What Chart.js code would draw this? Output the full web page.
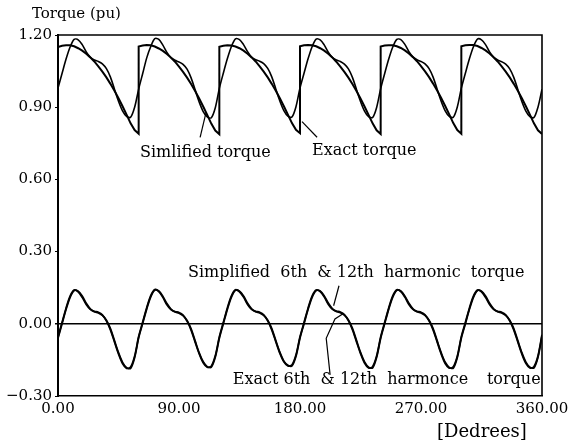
<!DOCTYPE html>
<html>
<head>
<meta charset="utf-8">
<script src="https://cdn.jsdelivr.net/npm/chart.js@4.4.1/dist/chart.umd.min.js"></script>
<style>
html,body{margin:0;padding:0;background:#fff;}
#wrap{width:577px;height:442px;position:relative;}
</style>
</head>
<body>
<div id="wrap"><canvas id="c" width="577" height="442"></canvas></div>
<script>
// ---- data ----
const degrees = [0,3,6,9,12,15,18,21,24,27,30,33,36,39,42,45,48,51,54,57,
60,63,66,69,72,75,78,81,84,87,90,93,96,99,102,105,108,111,114,117,
120,123,126,129,132,135,138,141,144,147,150,153,156,159,162,165,168,171,174,177,
180,183,186,189,192,195,198,201,204,207,210,213,216,219,222,225,228,231,234,237,
240,243,246,249,252,255,258,261,264,267,270,273,276,279,282,285,288,291,294,297,
300,303,306,309,312,315,318,321,324,327,330,333,336,339,342,345,348,351,354,357,360];

const simplifiedTorque = [
0.980,1.040,1.100,1.150,1.182,1.180,1.160,1.130,1.108,1.096,1.090,1.080,1.060,1.025,0.975,0.925,0.885,0.862,0.858,0.900,
0.975,1.040,1.105,1.152,1.185,1.182,1.158,1.128,1.106,1.095,1.088,1.078,1.058,1.022,0.972,0.922,0.882,0.860,0.856,0.898,
0.978,1.042,1.102,1.152,1.184,1.181,1.160,1.131,1.108,1.097,1.091,1.081,1.061,1.026,0.976,0.926,0.886,0.863,0.859,0.902,
0.980,1.041,1.101,1.151,1.183,1.180,1.159,1.129,1.107,1.096,1.090,1.079,1.059,1.024,0.974,0.924,0.884,0.861,0.857,0.899,
0.977,1.040,1.100,1.150,1.182,1.181,1.161,1.131,1.109,1.097,1.090,1.080,1.060,1.025,0.975,0.925,0.885,0.862,0.858,0.901,
0.979,1.041,1.101,1.151,1.183,1.180,1.160,1.130,1.108,1.096,1.089,1.079,1.059,1.024,0.974,0.924,0.884,0.861,0.857,0.900,
0.975];

const exactDegrees = [
0,3,6,9,12,15,18,21,24,27,30,33,36,39,42,45,48,51,54,57,60,
60,63,66,69,72,75,78,81,84,87,90,93,96,99,102,105,108,111,114,117,120,
120,123,126,129,132,135,138,141,144,147,150,153,156,159,162,165,168,171,174,177,180,
180,183,186,189,192,195,198,201,204,207,210,213,216,219,222,225,228,231,234,237,240,
240,243,246,249,252,255,258,261,264,267,270,273,276,279,282,285,288,291,294,297,300,
300,303,306,309,312,315,318,321,324,327,330,333,336,339,342,345,348,351,354,357,360];

const exactTorque = [
1.150,1.155,1.157,1.157,1.153,1.145,1.135,1.122,1.107,1.090,1.070,1.048,1.024,0.997,0.968,0.937,0.904,0.869,0.833,0.805,0.790,
1.152,1.156,1.158,1.157,1.152,1.144,1.134,1.121,1.106,1.089,1.069,1.047,1.023,0.996,0.967,0.936,0.903,0.868,0.832,0.803,0.788,
1.151,1.155,1.157,1.156,1.152,1.145,1.135,1.122,1.107,1.090,1.070,1.048,1.024,0.997,0.968,0.937,0.904,0.869,0.834,0.806,0.792,
1.153,1.157,1.158,1.157,1.153,1.145,1.135,1.122,1.107,1.089,1.069,1.047,1.023,0.996,0.967,0.936,0.903,0.868,0.833,0.804,0.789,
1.152,1.156,1.157,1.157,1.153,1.146,1.136,1.123,1.108,1.091,1.071,1.049,1.025,0.998,0.969,0.938,0.905,0.870,0.834,0.805,0.790,
1.153,1.157,1.158,1.158,1.154,1.146,1.136,1.123,1.107,1.090,1.070,1.048,1.024,0.997,0.968,0.937,0.904,0.869,0.833,0.804,0.789];

const simplifiedHarmonic = [
-0.055,0.005,0.065,0.115,0.140,0.133,0.110,0.080,0.060,0.052,0.048,0.037,0.012,-0.025,-0.075,-0.125,-0.165,-0.185,-0.180,-0.135,
-0.053,0.007,0.067,0.117,0.142,0.134,0.110,0.079,0.059,0.051,0.047,0.036,0.011,-0.026,-0.076,-0.124,-0.162,-0.180,-0.176,-0.133,
-0.055,0.006,0.066,0.116,0.141,0.133,0.111,0.080,0.060,0.052,0.048,0.037,0.012,-0.025,-0.074,-0.122,-0.158,-0.175,-0.171,-0.130,
-0.054,0.005,0.065,0.115,0.140,0.134,0.112,0.081,0.061,0.053,0.049,0.038,0.013,-0.024,-0.074,-0.123,-0.163,-0.183,-0.178,-0.134,
-0.055,0.006,0.066,0.116,0.141,0.134,0.111,0.080,0.060,0.052,0.048,0.037,0.012,-0.025,-0.075,-0.125,-0.165,-0.184,-0.179,-0.135,
-0.054,0.005,0.065,0.115,0.140,0.133,0.110,0.080,0.060,0.052,0.048,0.037,0.012,-0.025,-0.075,-0.125,-0.164,-0.183,-0.178,-0.134,
-0.045];

const exactHarmonic = [
-0.060,0.000,0.060,0.110,0.138,0.135,0.115,0.085,0.062,0.050,0.045,0.035,0.015,-0.020,-0.070,-0.120,-0.160,-0.182,-0.185,-0.140,
-0.058,0.002,0.062,0.112,0.140,0.136,0.114,0.084,0.061,0.049,0.044,0.034,0.014,-0.021,-0.071,-0.121,-0.158,-0.178,-0.180,-0.138,
-0.060,0.001,0.061,0.111,0.139,0.135,0.115,0.085,0.062,0.050,0.045,0.035,0.015,-0.020,-0.070,-0.118,-0.155,-0.172,-0.175,-0.135,
-0.059,0.000,0.060,0.110,0.138,0.136,0.116,0.086,0.063,0.051,0.046,0.036,0.016,-0.019,-0.069,-0.119,-0.158,-0.180,-0.183,-0.139,
-0.060,0.001,0.061,0.111,0.139,0.136,0.115,0.085,0.062,0.050,0.045,0.035,0.015,-0.020,-0.070,-0.120,-0.160,-0.181,-0.184,-0.140,
-0.059,0.000,0.060,0.110,0.138,0.135,0.115,0.085,0.062,0.050,0.045,0.035,0.015,-0.020,-0.070,-0.120,-0.159,-0.180,-0.183,-0.139,
-0.050];

const xTicks = [0, 90, 180, 270, 360];
const yTicks = [-0.30, 0.00, 0.30, 0.60, 0.90, 1.20];

// annotation texts (positions in data units)
const notes = [
  {text: 'Simlified torque', x: 61, y: 0.712},
  {text: 'Exact torque', x: 189, y: 0.72},
  {text: 'Simplified  6th  & 12th  harmonic  torque', x: 96.7, y: 0.2125},
  {text: 'Exact 6th  & 12th  harmonce', x: 130, y: -0.232},
  {text: 'torque', x: 319, y: -0.232}
];
const leaders = [
  [[105.7, 0.775], [110, 0.875]],
  [[192.7, 0.775], [181.5, 0.84]],
  [[209, 0.158], [205, 0.075]],
  [[202.4, -0.212], [199.5, -0.06], [206, 0.02], [212, 0.042]]
];

// ---- chart ----
const FONT = '"DejaVu Serif", "Liberation Serif", serif';
const zip = (xs, ys) => xs.map((x, i) => ({x: x, y: ys[i]}));

const annot = {
  id: 'annot',
  afterDatasetsDraw(chart) {
    const {ctx, chartArea: a, scales: {x, y}} = chart;
    ctx.save();
    ctx.strokeStyle = '#000';
    ctx.lineWidth = 1.6;
    ctx.beginPath();
    ctx.moveTo(a.left, a.top); ctx.lineTo(a.right, a.top); ctx.lineTo(a.right, a.bottom);
    ctx.stroke();
    ctx.lineWidth = 1.2;
    leaders.forEach(pts => {
      ctx.beginPath();
      pts.forEach((p, i) => {
        const px = x.getPixelForValue(p[0]), py = y.getPixelForValue(p[1]);
        if (i === 0) ctx.moveTo(px, py); else ctx.lineTo(px, py);
      });
      ctx.stroke();
    });
    ctx.fillStyle = '#000';
    ctx.font = '16px ' + FONT;
    ctx.textBaseline = 'middle';
    ctx.textAlign = 'left';
    notes.forEach(n => ctx.fillText(n.text, x.getPixelForValue(n.x), y.getPixelForValue(n.y)));
    ctx.font = '15px ' + FONT;
    ctx.fillText('Torque (pu)', a.left - 26, a.top - 21);
    ctx.font = '18px ' + FONT;
    ctx.fillText('[Dedrees]', a.right - 105, a.bottom + 36);
    ctx.restore();
  }
};

new Chart(document.getElementById('c'), {
  type: 'line',
  data: {
    datasets: [
      {label: 'Simlified torque', data: zip(degrees, simplifiedTorque), borderColor: '#000', borderWidth: 1.6, pointRadius: 0, tension: 0.3, fill: false},
      {label: 'Exact torque', data: zip(exactDegrees, exactTorque), borderColor: '#000', borderWidth: 2, pointRadius: 0, tension: 0, fill: false},
      {label: 'Simplified 6th & 12th harmonic torque', data: zip(degrees, simplifiedHarmonic), borderColor: '#000', borderWidth: 1.8, pointRadius: 0, tension: 0.3, fill: false},
      {label: 'Exact 6th & 12th harmonce torque', data: zip(degrees, exactHarmonic), borderColor: '#000', borderWidth: 1.8, pointRadius: 0, tension: 0.3, fill: false}
    ]
  },
  options: {
    responsive: false,
    animation: false,
    devicePixelRatio: 1,
    layout: {padding: {left: 0, right: 35, top: 35, bottom: 0}},
    plugins: {legend: {display: false}, tooltip: {enabled: false}},
    scales: {
      x: {
        type: 'linear', min: 0, max: 360,
        afterBuildTicks: s => { s.ticks = xTicks.map(v => ({value: v})); },
        afterFit: s => { s.height = 46; },
        grid: {display: false, drawTicks: false},
        border: {display: true, color: '#000', width: 1.6},
        ticks: {color: '#000', font: {family: FONT, size: 15}, padding: 4, maxRotation: 0,
                callback: v => v.toFixed(2)}
      },
      y: {
        type: 'linear', min: -0.30, max: 1.20,
        afterBuildTicks: s => { s.ticks = yTicks.map(v => ({value: v})); },
        afterFit: s => { s.width = 58; },
        grid: {
          drawTicks: true, tickLength: 3,
          color: c => (c.tick && Math.abs(c.tick.value) < 1e-9) ? '#000' : 'rgba(0,0,0,0)',
          tickColor: '#000',
          lineWidth: c => (c.tick && Math.abs(c.tick.value) < 1e-9) ? 1.6 : 1
        },
        border: {display: true, color: '#000', width: 2},
        ticks: {color: '#000', font: {family: FONT, size: 15}, padding: 3,
                callback: v => (v < -1e-9 ? '\u2212' + Math.abs(v).toFixed(2) : Math.abs(v).toFixed(2))}
      }
    }
  },
  plugins: [annot]
});
</script>
</body>
</html>
